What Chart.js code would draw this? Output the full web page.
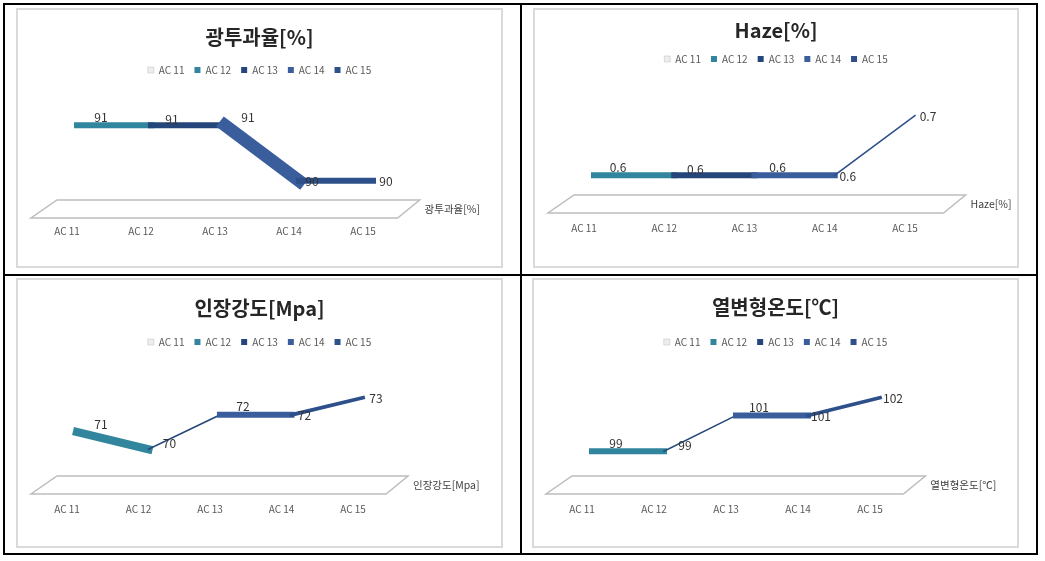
<!DOCTYPE html>
<html>
<head>
<meta charset="utf-8">
<script src="https://cdn.jsdelivr.net/npm/chart.js@4.4.1/dist/chart.umd.min.js"></script>
<style>
  body { margin: 0; background: #fff; width: 1045px; height: 561px; position: relative; overflow: hidden; }
  .rule { position: absolute; background: #000; }
  .frame { position: absolute; border: 2px solid #dadada; box-sizing: border-box; }
  canvas { position: absolute; }
</style>
</head>
<body>
<div class="rule" style="left:3px;top:3px;width:1035px;height:2px"></div>
<div class="rule" style="left:3px;top:553px;width:1035px;height:2px"></div>
<div class="rule" style="left:3px;top:3px;width:2px;height:552px"></div>
<div class="rule" style="left:1036px;top:3px;width:2px;height:552px"></div>
<div class="rule" style="left:520px;top:3px;width:2px;height:552px"></div>
<div class="rule" style="left:3px;top:274px;width:1035px;height:2px"></div>

<div class="frame" style="left:16px;top:8px;width:487px;height:260px"></div>
<div class="frame" style="left:533px;top:8px;width:486px;height:260px"></div>
<div class="frame" style="left:16px;top:278px;width:487px;height:270px"></div>
<div class="frame" style="left:532px;top:278px;width:487px;height:270px"></div>

<canvas id="c1" width="487" height="260" style="left:16px;top:8px"></canvas>
<canvas id="c2" width="486" height="260" style="left:533px;top:8px"></canvas>
<canvas id="c3" width="487" height="270" style="left:16px;top:278px"></canvas>
<canvas id="c4" width="487" height="270" style="left:532px;top:278px"></canvas>

<script>
// 데이터
const categories = ["AC 11", "AC 12", "AC 13", "AC 14", "AC 15"];
const transmittance = [91, 91, 91, 90, 90];
const haze = [0.6, 0.6, 0.6, 0.6, 0.7];
const tensile = [71, 70, 72, 72, 73];
const heatDeflection = [99, 99, 101, 101, 102];

// 항목별 색 (범례 + 리본 구간)
const pointColors = ["#ededed", "#31859c", "#24467a", "#3a5e9c", "#2d4f8a"];
// 값 라벨 위치 (점 기준)
const LABEL_OFFSETS = [[24, -8], [21, -6], [23, -8], [13, 1], [13, 1]];

const FONT = '"Noto Sans CJK KR", "Noto Sans", sans-serif';

// 바닥면 + 값 라벨
const floorAndLabels = {
  id: "floorAndLabels",
  beforeDatasetsDraw(chart, args, opts) {
    const { ctx, chartArea: a, scales: { x } } = chart;
    const step = x.getPixelForValue(1) - x.getPixelForValue(0);
    const y0 = a.bottom, y1 = a.bottom + 18;
    const tl = a.left - 20, tr = a.right + 0.63 * step;
    const bl = a.left - 46, br = tr - 22;
    ctx.save();
    ctx.beginPath();
    ctx.moveTo(tl, y0);
    ctx.lineTo(tr, y0);
    ctx.lineTo(br, y1);
    ctx.lineTo(bl, y1);
    ctx.closePath();
    ctx.fillStyle = "#fff";
    ctx.fill();
    ctx.strokeStyle = "#bdbdbd";
    ctx.lineWidth = 1.5;
    ctx.stroke();
    ctx.font = "10.5px " + FONT;
    ctx.fillStyle = "#404040";
    ctx.textAlign = "left";
    ctx.textBaseline = "middle";
    ctx.fillText(opts.text, (tr + br) / 2 + 16, (y0 + y1) / 2);
    ctx.restore();
  },
  afterDatasetsDraw(chart) {
    const { ctx } = chart;
    const values = chart.data.datasets[0].data;
    ctx.save();
    ctx.font = "12px " + FONT;
    ctx.fillStyle = "#333";
    ctx.textAlign = "center";
    ctx.textBaseline = "middle";
    chart.getDatasetMeta(0).data.forEach((pt, i) => {
      const [dx, dy] = LABEL_OFFSETS[i];
      ctx.fillText(String(values[i]), pt.x + dx, pt.y + dy);
    });
    ctx.restore();
  }
};

function makeChart(id, title, values, o) {
  new Chart(document.getElementById(id), {
    type: "line",
    data: {
      labels: categories,
      datasets: [{
        label: title,
        data: values,
        pointRadius: 0,
        clip: false,
        borderCapStyle: "square",
        segment: {
          borderColor: c => pointColors[c.p1DataIndex],
          // 3D 리본처럼: 내려가는 구간은 두껍게, 올라가는 구간은 얇게
          borderWidth: c => Math.max(1.5, 6 + 9 * (c.p1.y - c.p0.y) / (c.p1.x - c.p0.x)),
        },
      }],
    },
    options: {
      responsive: false,
      animation: false,
      events: [],
      layout: { padding: { left: o.side, right: o.side, top: 0, bottom: o.bottom } },
      plugins: {
        title: {
          display: true,
          text: title,
          color: "#262626",
          font: { family: FONT, size: 20, weight: "bold" },
          padding: { top: o.titleTop, bottom: o.titleBottom },
        },
        legend: {
          labels: {
            boxWidth: 6,
            boxHeight: 6,
            padding: 10,
            color: "#595959",
            font: { family: FONT, size: 10 },
            generateLabels: () => categories.map((c, i) => ({
              text: c,
              fillStyle: pointColors[i],
              strokeStyle: i === 0 ? "#bdbdbd" : pointColors[i],
              lineWidth: i === 0 ? 0.5 : 0,
              fontColor: "#595959",
              hidden: false,
              index: i,
            })),
          },
        },
        tooltip: { enabled: false },
        floorAndLabels: { text: title },
      },
      scales: {
        x: {
          grid: { display: false, drawTicks: false },
          border: { display: false },
          ticks: { padding: o.tickPad, labelOffset: -10, color: "#595959", font: { family: FONT, size: 10 } },
        },
        // 보이지 않는 값 축 (오른쪽 여백용)
        y: {
          position: "right",
          min: o.min,
          max: o.max,
          grid: { display: false },
          border: { display: false },
          ticks: { display: false },
          afterFit: s => { s.width = o.axisWidth; },
        },
      },
    },
    plugins: [floorAndLabels],
  });
}

makeChart("c1", "광투과율[%]", transmittance,
  { side: 61, axisWidth: 69, bottom: 6, titleTop: 17, titleBottom: 6, tickPad: 25, min: 89.655, max: 91.727 });
makeChart("c2", "Haze[%]", haze,
  { side: 61, axisWidth: 43, bottom: 7, titleTop: 10, titleBottom: 2, tickPad: 27, min: 0.5667, max: 0.77 });
makeChart("c3", "인장강도[Mpa]", tensile,
  { side: 61, axisWidth: 79, bottom: 6, titleTop: 18, titleBottom: 7, tickPad: 27, min: 68.44, max: 75.37 });
makeChart("c4", "열변형온도[℃]", heatDeflection,
  { side: 60, axisWidth: 79, bottom: 6, titleTop: 17, titleBottom: 8, tickPad: 27, min: 97.61, max: 104.28 });
</script>
</body>
</html>
